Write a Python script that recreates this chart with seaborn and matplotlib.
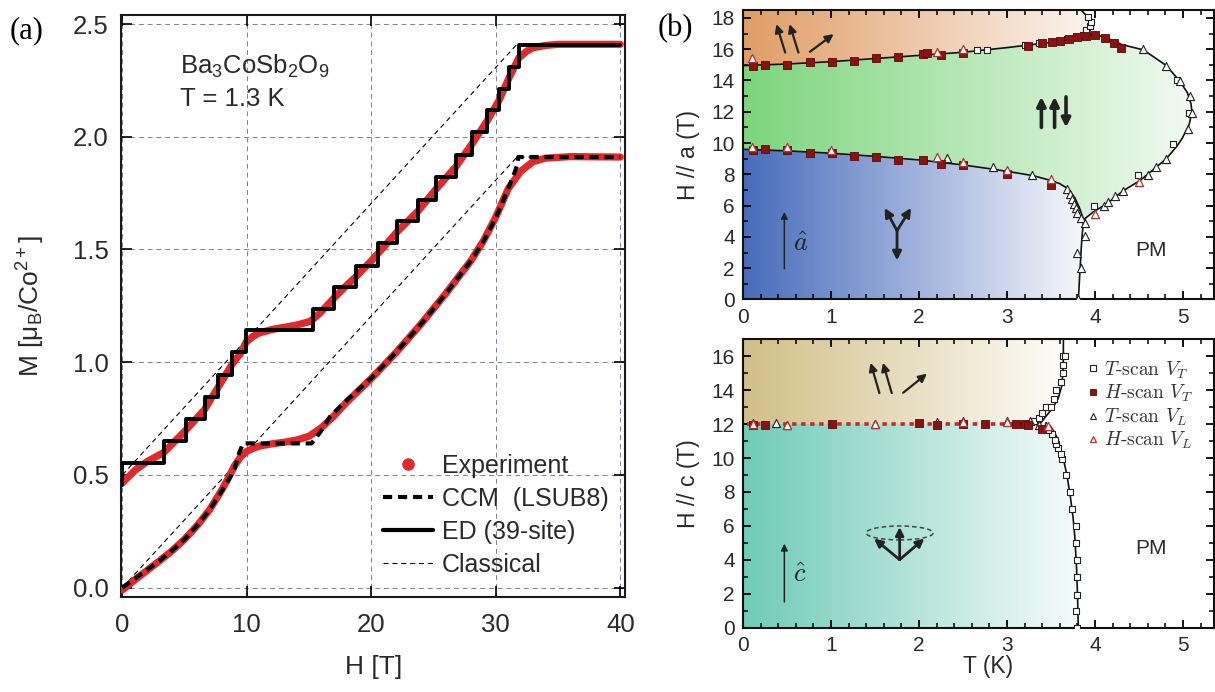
import numpy as np
import matplotlib
matplotlib.use("Agg")
import matplotlib.pyplot as plt
import seaborn as sns
from matplotlib.colors import LinearSegmentedColormap
from matplotlib.patches import Polygon, Ellipse
from matplotlib.lines import Line2D
from matplotlib.ticker import MultipleLocator
from matplotlib.font_manager import FontProperties

# ---------------- (a) magnetization M(H) ----------------
# lower set: H // c data
H_exp_lo = [0, 1, 2, 3, 4, 5, 6, 7, 8, 8.5, 9, 9.5, 10, 10.5, 11, 12, 13, 14, 15, 16, 17, 18,
            20, 22, 24, 26, 28, 29, 30, 31, 32, 33, 34, 36, 40]
M_exp_lo = [-0.01, 0.035, 0.077, 0.12, 0.164, 0.215, 0.275, 0.345, 0.435, 0.485, 0.54, 0.58,
            0.605, 0.618, 0.628, 0.638, 0.645, 0.655, 0.672, 0.71, 0.762, 0.822, 0.928, 1.044,
            1.17, 1.306, 1.45, 1.538, 1.644, 1.77, 1.847, 1.89, 1.905, 1.912, 1.91]
H_ccm = [0, 1, 2, 3, 4, 5, 6, 7, 8, 8.5, 9.0, 9.4, 9.7, 15.2, 15.9, 16.7, 18, 20, 22, 24, 26,
         28, 29, 30, 31, 31.5, 31.75, 31.8, 40]
M_ccm = [0.0, 0.04, 0.08, 0.12, 0.165, 0.215, 0.275, 0.345, 0.43, 0.475, 0.525, 0.6, 0.64,
         0.64, 0.69, 0.76, 0.83, 0.93, 1.045, 1.17, 1.305, 1.45, 1.535, 1.64, 1.77, 1.84,
         1.88, 1.91, 1.91]
# upper set (offset by 0.5)
H_exp_hi = [0, 1, 2, 3.33, 5.12, 6.6, 7.7, 8.8, 9.5, 9.95, 10.5, 11, 12, 13, 14, 15, 15.3,
            16, 17, 18, 18.77, 20, 20.5, 22.1, 23.74, 25.23, 26.83, 28.1, 29.3, 30.25, 31.05,
            31.85, 32.5, 33, 34, 35, 36, 38, 40]
M_exp_hi = [0.465, 0.52, 0.56, 0.60, 0.70, 0.79, 0.89, 0.99, 1.04, 1.09, 1.115, 1.13, 1.145,
            1.155, 1.165, 1.18, 1.19, 1.225, 1.285, 1.34, 1.38, 1.45, 1.48, 1.58, 1.67, 1.77,
            1.87, 1.97, 2.07, 2.16, 2.26, 2.35, 2.38, 2.395, 2.405, 2.41, 2.41, 2.41, 2.41]
H_ed = [0, 0, 3.33, 5.12, 6.6, 7.7, 8.8, 9.95, 15.3, 17.0, 18.77, 20.5, 22.1, 23.74, 25.23,
        26.83, 28.1, 29.3, 30.25, 31.05, 31.85, 40]
M_ed = [0.455, 0.551, 0.652, 0.75, 0.845, 0.944, 1.044, 1.141, 1.237, 1.333, 1.428, 1.528,
        1.625, 1.72, 1.82, 1.921, 2.019, 2.12, 2.21, 2.309, 2.405, 2.405]
H_cl = [0, 31.7, 40]
M_cl_lo = [0.0, 1.91, 1.91]
M_cl_hi = [0.5, 2.41, 2.41]

# ---------------- (b) phase diagram, H // a ----------------
a_up_T = [0, 0.5, 1.0, 1.5, 2.0, 2.5, 3.0, 3.3, 3.6, 3.8, 3.9]
a_up_H = [14.95, 15.05, 15.2, 15.4, 15.6, 15.8, 16.1, 16.3, 16.5, 16.72, 16.86]
a_dome_T = [3.9, 4.0, 4.12, 4.3, 4.55, 4.81, 4.97, 5.05, 5.09, 5.10, 5.07, 4.99, 4.93, 4.81,
            4.64, 4.51, 4.32, 4.13, 3.98, 3.87]
a_dome_H = [16.86, 16.93, 16.75, 16.3, 15.95, 14.95, 13.9, 13.2, 12.5, 12.0, 11.2, 10.3, 9.8,
            9.0, 8.2, 7.6, 6.95, 6.1, 5.6, 5.1]
a_low_T = [0, 0.5, 1.0, 1.5, 2.0, 2.5, 2.85, 3.1, 3.3, 3.5, 3.6, 3.7, 3.77, 3.82, 3.87]
a_low_H = [9.6, 9.5, 9.35, 9.15, 8.92, 8.6, 8.32, 8.1, 7.91, 7.6, 7.4, 7.05, 6.5, 5.9, 5.1]
a_vert_T = [3.87, 3.86, 3.85, 3.83, 3.81]
a_vert_H = [5.1, 4.5, 3.9, 2.0, 0.0]
a_top_T = [3.9, 3.94, 3.95, 3.91, 3.84]
a_top_H = [16.86, 17.1, 17.5, 18.1, 18.5]

a_tVT_T = [2.66, 2.77, 3.2, 3.36, 3.68, 3.78, 3.86, 3.9, 3.94, 3.95, 3.92, 3.99, 4.49, 4.89,
           5.07, 4.93]
a_tVT_H = [15.95, 15.95, 16.25, 16.4, 16.62, 16.75, 16.9, 17.2, 17.45, 17.75, 18.05, 5.97,
           7.97, 9.95, 11.95, 14.0]
a_hVT_T = [0.11, 0.25, 0.5, 0.76, 1.01, 1.26, 1.51, 1.76, 2.04, 2.09, 2.25, 2.5, 3.24, 3.4,
           3.51, 3.6, 3.7, 3.8, 3.9, 4.0, 4.11, 4.21, 4.3,
           0.11, 0.25, 0.5, 0.76, 1.01, 1.26, 1.51, 1.76, 2.04, 2.25, 2.5, 3.0, 3.5]
a_hVT_H = [14.9, 14.96, 15.0, 15.17, 15.15, 15.27, 15.42, 15.49, 15.7, 15.74, 15.64, 15.76,
           16.23, 16.38, 16.43, 16.49, 16.64, 16.77, 16.87, 16.92, 16.74, 16.4, 16.06,
           9.57, 9.59, 9.57, 9.35, 9.37, 9.2, 9.1, 8.9, 8.92, 8.67, 8.61, 8.03, 7.33]
a_tVL_T = [2.32, 2.84, 3.28, 3.68, 3.72, 3.74, 3.76, 3.78, 3.8, 3.84, 3.88, 3.88, 3.80, 3.84,
           3.81, 4.1, 4.15, 4.23, 4.32, 4.6, 4.69, 4.81, 5.06, 5.10, 5.08, 4.97, 4.81, 4.55]
a_tVL_H = [9.02, 8.44, 7.96, 7.06, 6.74, 6.42, 6.1, 5.84, 5.55, 5.2, 4.9, 4.05, 3.0, 2.0, 0.0,
           5.97, 6.2, 6.64, 6.96, 7.94, 8.47, 8.96, 10.9, 11.95, 13.0, 13.97, 14.93, 16.0]
a_hVL_T = [0.1, 2.2, 2.5, 0.1, 0.5, 1.0, 2.2, 2.5, 3.0, 3.5, 4.0, 4.5]
a_hVL_H = [15.46, 15.83, 16.0, 9.72, 9.76, 9.55, 9.08, 8.76, 8.29, 7.71, 5.47, 7.5]

# ---------------- (b) phase diagram, H // c ----------------
c_flat_T = [0.05, 3.45]
c_flat_H = [12.0, 12.0]
c_up_T = [3.38, 3.45, 3.52, 3.58, 3.62, 3.635, 3.64, 3.64]
c_up_H = [12.05, 12.5, 12.95, 13.5, 14.2, 15.0, 16.0, 17.0]
c_low_T = [3.45, 3.49, 3.54, 3.58, 3.64, 3.68, 3.72, 3.75, 3.77, 3.79, 3.80, 3.81]
c_low_H = [12.0, 11.9, 11.5, 11.04, 9.96, 9.0, 7.7, 6.5, 5.35, 3.5, 2.0, 0.0]

c_tVT_T = [3.80, 3.78, 3.80, 3.80, 3.80, 3.78, 3.78, 3.74, 3.71, 3.67, 3.62, 3.61, 3.58, 3.56,
           3.54, 3.51, 3.47, 3.31, 3.36, 3.40, 3.44, 3.50, 3.53, 3.56, 3.61, 3.63, 3.64, 3.63,
           3.66]
c_tVT_H = [0.0, 0.98, 1.96, 3.0, 3.98, 5.0, 5.98, 6.98, 8.0, 8.98, 9.96, 10.25, 10.6, 10.84,
           11.04, 11.43, 11.63, 12.2, 12.37, 12.65, 13.0, 13.0, 13.5, 14.0, 14.5, 15.0, 15.5,
           16.0, 16.0]
c_hVT_T = [0.11, 0.25, 1.01, 2.0, 2.2, 2.5, 2.75, 3.1, 3.2, 3.24, 3.4]
c_hVT_H = [11.96, 11.96, 12.02, 12.06, 11.94, 11.98, 11.98, 12.02, 12.02, 11.96, 11.7]
c_tVL_T = [0.11, 0.38, 0.5, 1.5, 2.2, 2.5, 3.0, 3.26, 3.36, 3.44]
c_tVL_H = [12.06, 12.06, 11.96, 12.02, 12.14, 12.16, 12.16, 12.16, 11.92, 11.88]
c_hVL_T = [0.11, 0.5, 1.5, 2.5, 3.0, 3.46]
c_hVL_H = [12.0, 11.96, 11.98, 12.12, 12.12, 11.9]

legend_a = ["Experiment", "CCM  (LSUB8)", "ED (39-site)", "Classical"]
legend_b = [r"$T$-scan $V_T$", r"$H$-scan $V_T$", r"$T$-scan $V_L$", r"$H$-scan $V_L$"]

# ---------------- style ----------------
sns.set_theme(style="ticks")
plt.rcParams["font.family"] = ["Liberation Sans", "DejaVu Sans"]
plt.rcParams["mathtext.fontset"] = "custom"
plt.rcParams["mathtext.rm"] = "Liberation Sans"
plt.rcParams["mathtext.it"] = "Liberation Sans:italic"
plt.rcParams["mathtext.bf"] = "Liberation Sans:bold"

RED = "#e1292b"
DARKRED = "#8c1212"
TXT = "#2a2a2a"

fig = plt.figure(figsize=(12.15, 6.92), dpi=100)
fig.patch.set_facecolor("white")

# ================= panel (a) =================
ax = fig.add_axes([0.0999, 0.1377, 0.4147, 0.8406])
ax.set_facecolor("white")
grid_kw = dict(color="#7b8096", lw=0.7, dashes=(5, 4))
for gx in [0, 10, 20, 30, 40]:
    ax.axvline(gx, zorder=0.5, **grid_kw)
for gy in [0, 0.5, 1.0, 1.5, 2.0, 2.5]:
    ax.axhline(gy, zorder=0.5, **grid_kw)

for Hc, Mc in [(H_cl, M_cl_lo), (H_cl, M_cl_hi)]:
    sns.lineplot(x=Hc, y=Mc, ax=ax, color="black", lw=0.8, sort=False, estimator=None,
                 linestyle=(0, (4.5, 3.5)), zorder=2)
sns.lineplot(x=H_exp_lo, y=M_exp_lo, ax=ax, color=RED, lw=5.2, sort=False, estimator=None,
             solid_capstyle="round", zorder=3)
sns.lineplot(x=H_exp_hi, y=M_exp_hi, ax=ax, color=RED, lw=5.2, sort=False, estimator=None,
             solid_capstyle="round", zorder=3)
sns.lineplot(x=H_ccm, y=M_ccm, ax=ax, color="black", lw=3.0, sort=False, estimator=None,
             linestyle=(0, (2.2, 1.4)), zorder=4)
sns.lineplot(x=H_ed, y=M_ed, ax=ax, color="black", lw=2.8, sort=False, estimator=None,
             drawstyle="steps-post", zorder=5)

ax.set_xlim(-0.08, 40.4)
ax.set_ylim(-0.04, 2.54)
ax.set_xticks([0, 10, 20, 30, 40])
ax.set_yticks([0, 0.5, 1.0, 1.5, 2.0, 2.5])
ax.set_yticklabels(["0.0", "0.5", "1.0", "1.5", "2.0", "2.5"])
ax.tick_params(direction="in", length=8, width=1.2, top=True, right=True,
               labelsize=18.5, colors="black", labelcolor=TXT, pad=9)
ax.tick_params(axis="x", pad=12)
for sp in ax.spines.values():
    sp.set_linewidth(1.5)
    sp.set_color("#1a1a1a")
ax.set_xlabel("H [T]", fontsize=19, color=TXT)
ax.set_ylabel("M [μ$_{\\rm B}$/Co$^{2+}$]", fontsize=19, color=TXT)
ax.xaxis.set_label_coords(0.5, -0.1)
ax.yaxis.set_label_coords(-0.148, 0.5)

ax.text(0.116, 0.912, r"Ba$_3$CoSb$_2$O$_9$", transform=ax.transAxes, fontsize=18.5,
        color=TXT, va="center")
ax.text(0.116, 0.855, "T = 1.3 K", transform=ax.transAxes, fontsize=18.5, color=TXT,
        va="center")

handles_a = [
    Line2D([], [], color=RED, marker="o", ls="none", markersize=8),
    Line2D([], [], color="black", lw=3.0, ls=(0, (2.2, 1.4))),
    Line2D([], [], color="black", lw=3.0),
    Line2D([], [], color="black", lw=0.8, ls=(0, (4.5, 3.5))),
]
leg = ax.legend(handles_a, legend_a, loc="upper left", bbox_to_anchor=(0.519, 0.245),
                frameon=False, fontsize=18, handlelength=2.0, handletextpad=0.35,
                labelspacing=0.36, borderpad=0, borderaxespad=0)
for t in leg.get_texts():
    t.set_color(TXT)

fig.text(0.008, 0.955, "(a)", family=["Liberation Serif"], fontsize=22, va="center",
         color="black")
fig.text(0.5416, 0.958, "(b)", family=["Liberation Serif"], fontsize=22, va="center",
         color="black")


# ================= panel (b) helpers =================
def gradient_region(axis, T_pts, H_pts, c_left, c_right, t_end, h_lo, h_hi):
    cmap = LinearSegmentedColormap.from_list("region", [c_left, c_right])
    grad = np.linspace(0, 1, 256).reshape(1, -1)
    im = axis.imshow(grad, extent=[0, t_end, h_lo, h_hi], origin="lower", aspect="auto",
                     cmap=cmap, zorder=0, interpolation="bilinear")
    poly = Polygon(np.column_stack([T_pts, H_pts]), closed=True, fc="none", ec="none",
                   transform=axis.transData)
    axis.add_patch(poly)
    im.set_clip_path(poly)


def style_phase_axis(axis, ymax, ylabel):
    axis.set_xlim(0, 5.35)
    axis.set_ylim(0, ymax)
    axis.xaxis.set_major_locator(MultipleLocator(1))
    axis.xaxis.set_minor_locator(MultipleLocator(0.2))
    axis.yaxis.set_major_locator(MultipleLocator(2))
    axis.yaxis.set_minor_locator(MultipleLocator(1))
    axis.tick_params(which="both", direction="in", top=True, right=True, colors="black",
                     labelcolor=TXT)
    axis.tick_params(which="major", length=6, width=1.3, labelsize=15, pad=6)
    axis.tick_params(which="minor", length=3.5, width=1.1)
    for sp in axis.spines.values():
        sp.set_linewidth(1.5)
        sp.set_color("#111111")
    axis.set_ylabel(ylabel, fontsize=16.5, color=TXT)
    axis.yaxis.set_label_coords(-0.092, 0.5)


def spin_arrow(axis, tail, head, lw=1.6, ms=12):
    axis.annotate("", xy=head, xytext=tail,
                  arrowprops=dict(arrowstyle="-|>", lw=lw, color="#222222",
                                  mutation_scale=ms, shrinkA=0, shrinkB=0), zorder=6)


def markers(axis, T_sq_open, H_sq_open, T_sq, H_sq, T_tri, H_tri, T_tri_r, H_tri_r):
    sns.scatterplot(x=T_sq_open, y=H_sq_open, ax=axis, marker="s", s=24, color="white",
                    edgecolor="#222222", linewidth=0.8, zorder=7)
    sns.scatterplot(x=T_sq, y=H_sq, ax=axis, marker="s", s=34, color=DARKRED,
                    edgecolor="#5a0a0a", linewidth=0.6, zorder=8)
    sns.scatterplot(x=T_tri, y=H_tri, ax=axis, marker="^", s=34, color="white",
                    edgecolor="#222222", linewidth=0.8, zorder=7)
    sns.scatterplot(x=T_tri_r, y=H_tri_r, ax=axis, marker="^", s=34, color="white",
                    edgecolor="#b23535", linewidth=0.9, zorder=9)


# ================= panel (b) top: H // a =================
axa = fig.add_axes([0.6115, 0.5672, 0.3876, 0.4183])
axa.set_facecolor("white")
orange_T = [0] + a_up_T + a_top_T[1:]
orange_H = [18.5] + a_up_H + a_top_H[1:]
gradient_region(axa, orange_T, orange_H, "#e09d66", "#fbf4ee", 3.95, 14.5, 18.5)
green_T = a_up_T + a_dome_T[1:] + a_low_T[::-1][1:]
green_H = a_up_H + a_dome_H[1:] + a_low_H[::-1][1:]
gradient_region(axa, green_T, green_H, "#7dd57d", "#f1faf1", 5.1, 5.0, 17.0)
blue_T = [0] + a_low_T + a_vert_T[1:]
blue_H = [0] + a_low_H + a_vert_H[1:]
gradient_region(axa, blue_T, blue_H, "#476cbc", "#f6f7fb", 3.87, 0, 9.7)

for Tb, Hb in [(a_up_T, a_up_H), (a_dome_T, a_dome_H), (a_low_T, a_low_H),
               (a_vert_T, a_vert_H), (a_top_T, a_top_H)]:
    sns.lineplot(x=Tb, y=Hb, ax=axa, color="#111111", lw=1.2, sort=False, estimator=None,
                 zorder=5)
markers(axa, a_tVT_T, a_tVT_H, a_hVT_T, a_hVT_H, a_tVL_T, a_tVL_H, a_hVL_T, a_hVL_H)

# spin configurations
spin_arrow(axa, (0.48, 15.78), (0.38, 17.6))
spin_arrow(axa, (0.63, 15.78), (0.53, 17.6))
spin_arrow(axa, (0.76, 15.83), (1.03, 16.96))
spin_arrow(axa, (3.39, 11.0), (3.39, 12.95), lw=2.6, ms=13)
spin_arrow(axa, (3.54, 11.0), (3.54, 12.95), lw=2.6, ms=13)
spin_arrow(axa, (3.67, 12.95), (3.67, 11.0), lw=2.6, ms=13)
spin_arrow(axa, (1.75, 4.4), (1.61, 5.85), lw=2.0, ms=13)
spin_arrow(axa, (1.75, 4.4), (1.91, 5.85), lw=2.0, ms=13)
spin_arrow(axa, (1.75, 4.4), (1.75, 2.5), lw=2.0, ms=13)
spin_arrow(axa, (0.47, 1.96), (0.47, 5.6), lw=1.1, ms=10)
axa.text(0.66, 3.55, r"$\hat{a}$", fontsize=19, math_fontfamily="cm", color="#222222",
         ha="center", va="center", zorder=6)
axa.text(4.64, 3.1, "PM", fontsize=15, color=TXT, ha="center", va="center")
style_phase_axis(axa, 18.5, "H // a (T)")
axa.set_xlabel("")

# ================= panel (b) bottom: H // c =================
axc = fig.add_axes([0.6115, 0.0925, 0.3876, 0.4176])
axc.set_facecolor("white")
tan_T = [0, 0, 3.38] + c_up_T[1:]
tan_H = [17.0, 12.0, 12.0] + c_up_H[1:]
gradient_region(axc, tan_T, tan_H, "#d1bf87", "#fdfcf8", 3.64, 12.0, 17.0)
teal_T = [0, 0] + c_low_T
teal_H = [0, 12.0] + c_low_H
gradient_region(axc, teal_T, teal_H, "#6fcbb7", "#f7fcfb", 3.81, 0, 12.0)

sns.lineplot(x=c_up_T, y=c_up_H, ax=axc, color="#111111", lw=1.2, sort=False,
             estimator=None, zorder=5)
sns.lineplot(x=c_low_T, y=c_low_H, ax=axc, color="#111111", lw=1.2, sort=False,
             estimator=None, zorder=5)
sns.lineplot(x=c_flat_T, y=c_flat_H, ax=axc, color="#cf2424", lw=2.6, sort=False,
             estimator=None, linestyle=(0, (1.2, 1.3)), zorder=6)
markers(axc, c_tVT_T, c_tVT_H, c_hVT_T, c_hVT_H, c_tVL_T, c_tVL_H, c_hVL_T, c_hVL_H)

spin_arrow(axc, (1.55, 13.82), (1.45, 15.6))
spin_arrow(axc, (1.69, 13.82), (1.59, 15.6))
spin_arrow(axc, (1.82, 13.84), (2.09, 14.96))
axc.add_patch(Ellipse((1.78, 5.59), 0.76, 0.82, fill=False, ls=(0, (3, 2)), lw=1.1,
                      ec="#444444", zorder=6))
spin_arrow(axc, (1.78, 4.02), (1.78, 5.94), lw=2.0)
spin_arrow(axc, (1.78, 4.02), (1.49, 5.26), lw=2.0)
spin_arrow(axc, (1.78, 4.02), (2.06, 5.26), lw=2.0)
spin_arrow(axc, (0.47, 1.53), (0.47, 4.96), lw=1.1, ms=10)
axc.text(0.64, 3.1, r"$\hat{c}$", fontsize=19, math_fontfamily="cm", color="#222222",
         ha="center", va="center", zorder=6)
axc.text(4.64, 4.65, "PM", fontsize=15, color=TXT, ha="center", va="center")
style_phase_axis(axc, 17.0, "H // c (T)")
axc.set_xlabel("T (K)", fontsize=16.5, color=TXT)
axc.xaxis.set_label_coords(0.52, -0.095)

handles_b = [
    Line2D([], [], marker="s", ls="none", markersize=4.5, mfc="white", mec="#222222", mew=0.8),
    Line2D([], [], marker="s", ls="none", markersize=4.5, mfc=DARKRED, mec="#5a0a0a", mew=0.6),
    Line2D([], [], marker="^", ls="none", markersize=5, mfc="white", mec="#222222", mew=0.8),
    Line2D([], [], marker="^", ls="none", markersize=5, mfc="white", mec="#b23535", mew=0.9),
]
fp = FontProperties(family=["cmr10", "DejaVu Serif"], size=14, math_fontfamily="cm")
legb = axc.legend(handles_b, legend_b, loc="upper left", bbox_to_anchor=(0.73, 0.93),
                  frameon=False, prop=fp, handlelength=0.6, handletextpad=0.3,
                  labelspacing=0.12, borderpad=0, borderaxespad=0)
for t in legb.get_texts():
    t.set_color("#333333")

fig.savefig("out.png", dpi=100, facecolor="white")
